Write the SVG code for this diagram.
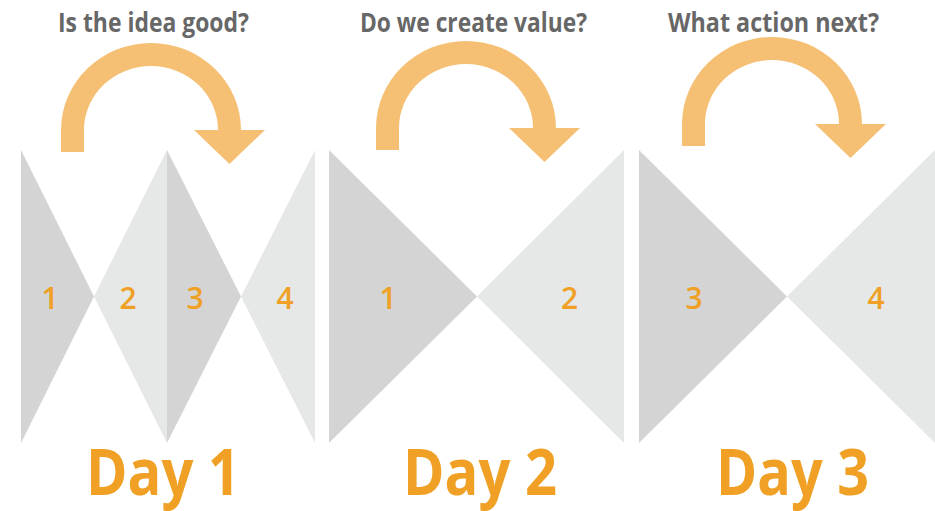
<svg xmlns="http://www.w3.org/2000/svg" width="935" height="511" viewBox="0 0 935 511">
<style>
.dark{fill:#d3d4d3}
.light{fill:#e5e8e7}
.arrow{fill:#f5c074}
.num{font-family:"Open Sans","Liberation Sans",sans-serif;font-weight:600;font-size:30px;fill:#efa025;text-anchor:middle}
.title{font-family:"Open Sans","Liberation Sans",sans-serif;font-weight:700;font-size:26px;fill:#676767}
.day{font-family:"Open Sans","Liberation Sans",sans-serif;font-weight:700;font-size:64px;fill:#efa025}
</style>
<defs>
<path id="loop" d="M0,22 L0,0 A90,87 0 0 1 180,0 L204,0 L168.5,34 L133,0 L157,0 A67,64 0 0 0 23,0 L23,22 Z"/>
</defs>
<rect width="935" height="511" fill="#ffffff"/>
<g id="day1">
<polygon class="dark" points="21,150 21,443 94,296.5"/>
<polygon class="light" points="94,296.5 167,150 167,443"/>
<polygon class="dark" points="167,150 167,443 241,296.5"/>
<polygon class="light" points="241,296.5 315,150 315,443"/>
<text class="num" x="50" y="309">1</text>
<text class="num" x="128" y="309">2</text>
<text class="num" x="195" y="309">3</text>
<text class="num" x="285" y="309">4</text>
<text class="title" x="58" y="32" textLength="191" lengthAdjust="spacingAndGlyphs">Is the idea good?</text>
<text class="day" x="86" y="495" textLength="154" lengthAdjust="spacingAndGlyphs">Day 1</text>
</g>
<g id="day2">
<polygon class="dark" points="329,150 329,443 477,296.5"/>
<polygon class="light" points="477,296.5 624,150 624,443"/>
<text class="num" x="388" y="309">1</text>
<text class="num" x="569.5" y="309">2</text>
<text class="title" x="360" y="32" textLength="227" lengthAdjust="spacingAndGlyphs">Do we create value?</text>
<text class="day" x="403" y="495" textLength="154" lengthAdjust="spacingAndGlyphs">Day 2</text>
</g>
<g id="day3">
<polygon class="dark" points="639,150 639,443 787,296.5"/>
<polygon class="light" points="787,296.5 935,150 935,443"/>
<text class="num" x="694" y="309">3</text>
<text class="num" x="876" y="309">4</text>
<text class="title" x="668" y="32" textLength="211" lengthAdjust="spacingAndGlyphs">What action next?</text>
<text class="day" x="716" y="495" textLength="153" lengthAdjust="spacingAndGlyphs">Day 3</text>
</g>
<g id="connectors">
<use href="#loop" class="arrow" transform="translate(61,130)"/>
<use href="#loop" class="arrow" transform="translate(376,128)"/>
<use href="#loop" class="arrow" transform="translate(682,124)"/>
</g>
</svg>
